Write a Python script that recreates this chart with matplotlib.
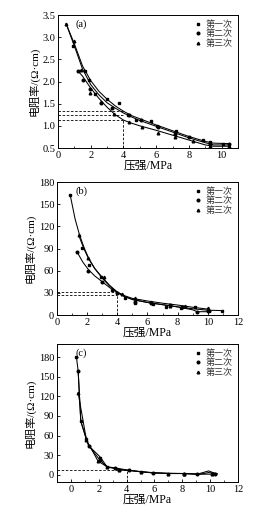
import matplotlib
matplotlib.use("Agg")
import matplotlib.pyplot as plt
from matplotlib.ticker import AutoMinorLocator, MultipleLocator

plt.rcParams['font.family'] = ['Liberation Serif', 'Noto Sans CJK SC']
plt.rcParams['axes.unicode_minus'] = False

labels = ['第一次', '第二次', '第三次']
markers = ['s', 'o', '^']

# ---------------- panel (a) ----------------
a1_x = [0.91, 1.67, 1.89, 2.28, 3.00, 3.70, 4.27, 4.74, 5.69, 6.04, 7.22, 8.84, 9.31, 10.06]
a1_y = [2.81, 2.24, 2.04, 1.72, 1.60, 1.52, 1.25, 1.14, 1.11, 0.99, 0.88, 0.69, 0.63, 0.60]
a2_x = [1.22, 1.52, 1.93, 2.64, 3.31, 4.33, 5.08, 6.10, 7.18, 8.03, 9.31, 10.43]
a2_y = [2.24, 2.04, 1.83, 1.51, 1.40, 1.25, 1.14, 0.97, 0.81, 0.74, 0.58, 0.58]
a3_x = [0.51, 0.96, 1.42, 1.97, 2.64, 3.41, 4.33, 5.14, 6.10, 7.18, 8.26, 9.31, 10.43]
a3_y = [3.30, 2.92, 2.25, 1.73, 1.53, 1.26, 1.09, 0.97, 0.84, 0.74, 0.66, 0.55, 0.55]

af1_x = [0.5, 1.0, 1.5, 2.0, 2.5, 3.0, 3.5, 4.0, 4.5, 5.0, 6.0, 7.0, 8.0, 9.0, 9.5, 10.4]
af1_y = [3.30, 2.85, 2.35, 2.02, 1.78, 1.60, 1.45, 1.33, 1.23, 1.16, 1.02, 0.89, 0.76, 0.65, 0.61, 0.60]
af2_x = [0.5, 1.0, 1.5, 2.0, 2.5, 3.0, 3.5, 4.0, 4.5, 5.0, 6.0, 7.0, 8.0, 9.0, 9.5, 10.4]
af2_y = [3.30, 2.80, 2.28, 1.93, 1.70, 1.52, 1.40, 1.29, 1.20, 1.12, 0.99, 0.86, 0.73, 0.62, 0.57, 0.57]
af3_x = [1.22, 1.5, 2.0, 2.5, 3.0, 3.5, 4.0, 4.5, 5.0, 6.0, 7.0, 8.0, 9.0, 9.5, 10.4]
af3_y = [2.24, 2.12, 1.85, 1.62, 1.42, 1.25, 1.13, 1.06, 1.00, 0.90, 0.79, 0.68, 0.57, 0.54, 0.54]
a_hlines = [1.33, 1.25, 1.13]

# ---------------- panel (b) ----------------
b1_x = [0.88, 1.68, 2.12, 2.94, 3.65, 4.49, 5.15, 6.36, 7.20, 8.24, 9.13, 10.07, 10.96]
b1_y = [162, 91, 67.5, 51.8, 33.8, 23.4, 16.6, 14.4, 10.4, 9.9, 11.2, 5.4, 5.9]
b2_x = [1.33, 2.05, 2.98, 3.98, 5.15, 6.25, 7.47, 8.30, 9.28, 10.0]
b2_y = [85.5, 59.4, 45.0, 30.0, 18.0, 15.8, 13.5, 10.5, 4.5, 5.0]
b3_x = [1.44, 2.05, 3.09, 4.31, 5.15, 6.25, 7.47, 8.46, 10.0]
b3_y = [108, 76.5, 51, 28, 22.5, 17.0, 12.6, 12.6, 9.0]

bf1_x = [0.88, 1.2, 1.5, 1.8, 2.1, 2.5, 3.0, 3.5, 4.0, 4.5, 5.0, 6.0, 7.0, 8.0, 9.0, 10.0, 10.96]
bf1_y = [162, 130, 108, 91, 77, 63, 50, 39, 31, 25, 21, 17, 14, 11, 8.5, 6.5, 6.0]
bf2_x = [1.33, 1.7, 2.1, 2.5, 3.0, 3.5, 4.0, 4.5, 5.0, 6.0, 7.0, 8.0, 9.0, 9.3, 10.2]
bf2_y = [85.5, 72, 61, 53, 45, 37, 30, 25, 21, 17, 14, 11, 7, 4.5, 4.5]
bf3_x = [1.44, 1.8, 2.1, 2.5, 3.0, 3.5, 4.0, 4.5, 5.0, 6.0, 7.0, 8.0, 9.0, 10.0, 10.2]
bf3_y = [108, 89, 76, 63, 51, 40, 31, 26, 22.5, 19, 16, 13.5, 10.5, 8, 5]
b_hlines = [30.5, 27.0]

# ---------------- panel (c) ----------------
c1_x = [0.40, 0.71, 1.12, 2.07, 2.61, 3.49, 5.04, 6.94, 8.13, 10.15]
c1_y = [179.5, 82, 55, 25, 12, 8, 4.6, 2, 2, 1]
c2_x = [0.52, 1.28, 2.07, 3.14, 4.16, 5.87, 8.13, 9.08, 10.38]
c2_y = [159, 44.5, 23, 10.7, 7, 3, 2, 1, 1]
c3_x = [0.52, 1.12, 1.95, 2.61, 3.49, 5.04, 6.94, 8.13, 10.15]
c3_y = [125, 53, 21, 12, 8, 4.6, 2, 2, 2]

cl1_x = [0.40, 0.52, 0.71, 1.12, 1.28, 2.07, 2.61, 3.14, 3.49, 4.16, 5.04, 5.87, 6.94, 8.13, 9.08, 9.9, 10.5]
cl1_y = [179.5, 159, 82, 55, 44.5, 28, 12, 10.7, 8, 7, 4.6, 3, 2, 2, 1, 6, 1]
cl2_x = [0.52, 0.71, 1.12, 1.28, 2.07, 2.61, 3.14, 4.16, 5.87, 8.13, 9.08, 10.38]
cl2_y = [159, 82, 53, 44.5, 23, 12, 10.7, 7, 3, 2, 1, 1]
cl3_x = [0.52, 1.12, 1.95, 2.61, 3.49, 5.04, 6.94, 8.13, 9.3, 9.9, 10.5]
cl3_y = [125, 53, 21, 12, 8, 4.6, 2, 2, 1, 3.5, 2]
c_hline = 7.0

fig = plt.figure(figsize=(2.63, 5.09), dpi=100)

ax_a = fig.add_axes([0.2205, 0.7092, 0.6845, 0.2613])
ax_b = fig.add_axes([0.2167, 0.3811, 0.688, 0.2613])
ax_c = fig.add_axes([0.2167, 0.0530, 0.688, 0.2711])

lw = 0.75
ms = 1.9
dash = dict(color='k', lw=0.6, ls=(0, (3, 2)))


def style(ax):
    ax.tick_params(direction='in', length=2.5, width=0.6, labelsize=7.5, pad=2)
    ax.tick_params(which='minor', direction='in', length=1.5, width=0.5)
    ax.xaxis.set_minor_locator(AutoMinorLocator(2))
    for s in ax.spines.values():
        s.set_linewidth(0.7)
    ax.set_xlabel('压强/MPa', fontsize=8.5, labelpad=0)
    ax.set_ylabel('电阻率/(Ω·cm)', fontsize=8, labelpad=2)


def draw(ax, pts, lines, tag):
    for (x, y), m, lab in zip(pts, markers, labels):
        ax.plot(x, y, ls='none', marker=m, ms=ms, color='k', label=lab)
    for (x, y) in lines:
        ax.plot(x, y, color='k', lw=lw)
    ax.text(0.10, 0.93, tag, transform=ax.transAxes, fontsize=7.5, va='center')
    ax.legend(loc='upper right', frameon=False, fontsize=6.5, handlelength=0.8,
              handletextpad=0.5, labelspacing=0.1, borderaxespad=0.15, markerscale=1.0,
              labelcolor='#333333')
    style(ax)


# (a)
draw(ax_a, [(a1_x, a1_y), (a2_x, a2_y), (a3_x, a3_y)],
     [(af1_x, af1_y), (af2_x, af2_y), (af3_x, af3_y)], '(a)')
for h in a_hlines:
    ax_a.plot([0, 4], [h, h], **dash)
ax_a.plot([4, 4], [0.5, a_hlines[-1]], **dash)
ax_a.set_xlim(0, 11)
ax_a.set_ylim(0.5, 3.5)
ax_a.yaxis.set_major_locator(MultipleLocator(0.5))
ax_a.set_xticks([0, 2, 4, 6, 8, 10])

# (b)
draw(ax_b, [(b1_x, b1_y), (b2_x, b2_y), (b3_x, b3_y)],
     [(bf1_x, bf1_y), (bf2_x, bf2_y), (bf3_x, bf3_y)], '(b)')
for h in b_hlines:
    ax_b.plot([0, 4], [h, h], **dash)
ax_b.plot([4, 4], [0, b_hlines[-1]], **dash)
ax_b.set_xlim(0, 12)
ax_b.set_ylim(0, 180)
ax_b.set_xticks([0, 2, 4, 6, 8, 10, 12])
ax_b.yaxis.set_major_locator(MultipleLocator(30))

# (c)
draw(ax_c, [(c1_x, c1_y), (c2_x, c2_y), (c3_x, c3_y)],
     [(cl1_x, cl1_y), (cl2_x, cl2_y), (cl3_x, cl3_y)], '(c)')
ax_c.plot([-1, 4], [c_hline, c_hline], **dash)
ax_c.plot([4, 4], [-11, c_hline], **dash)
ax_c.set_xlim(-1, 12)
ax_c.set_ylim(-11, 200)
ax_c.set_xticks([0, 2, 4, 6, 8, 10, 12])
ax_c.set_yticks([0, 30, 60, 90, 120, 150, 180])

fig.savefig('out.png', dpi=100)
